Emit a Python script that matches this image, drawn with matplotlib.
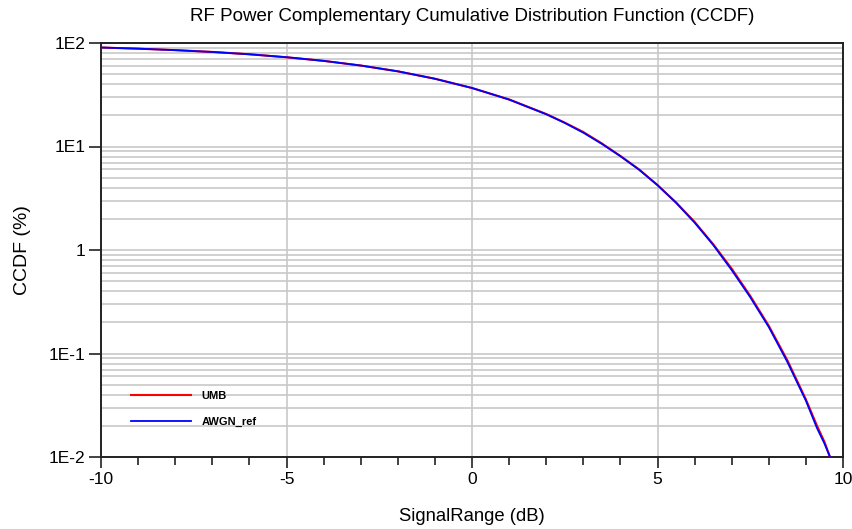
import matplotlib
matplotlib.use("Agg")
import matplotlib.pyplot as plt
from matplotlib.ticker import FixedLocator, NullFormatter

plt.rcParams['font.family'] = ['Liberation Sans', 'DejaVu Sans']

# Data
signal_db = [-10, -9, -8, -7, -6, -5, -4, -3, -2, -1, 0, 1, 2, 2.5, 3, 3.5, 4,
             4.5, 5, 5.5, 6, 6.5, 7, 7.5, 8, 8.5, 9, 9.3, 9.5, 9.65]
awgn_ref = [90.5, 88.2, 85.3, 81.9, 77.8, 72.9, 67.2, 60.6, 53.3, 45.1, 36.8,
            28.4, 20.5, 16.9, 13.6, 10.6, 8.06, 5.98, 4.23, 2.86, 1.84, 1.12,
            0.64, 0.35, 0.18, 0.083, 0.035, 0.019, 0.0135, 0.0100]
umb = [90.4, 88.1, 85.3, 82.0, 77.8, 72.8, 67.2, 60.6, 53.2, 45.2, 36.7,
       28.5, 20.6, 17.0, 13.8, 10.7, 8.10, 6.02, 4.24, 2.88, 1.87, 1.14,
       0.66, 0.36, 0.185, 0.086, 0.036, 0.020, 0.0140, 0.0100]

x_ticks = [-10, -5, 0, 5, 10]
x_tick_labels = ['-10', '-5', '0', '5', '10']
y_ticks = [1e-2, 1e-1, 1, 1e1, 1e2]
y_tick_labels = ['1E-2', '1E-1', '1', '1E1', '1E2']

title = 'RF Power Complementary Cumulative Distribution Function (CCDF)'
x_label = 'SignalRange (dB)'
y_label = 'CCDF (%)'

fig = plt.figure(figsize=(8.52, 5.29), dpi=100)
ax = fig.add_axes([101/852, 1 - 457/529, 742/852, 414/529])

ax.plot(signal_db, umb, color='#ff0000', lw=1.5, label='UMB', zorder=3)
ax.plot(signal_db, awgn_ref, color='#0000ff', lw=1.3, label='AWGN_ref', zorder=4)

ax.set_yscale('log')
ax.set_xlim(-10, 10)
ax.set_ylim(1e-2, 1e2)

ax.set_xticks(x_ticks, x_tick_labels)
ax.xaxis.set_minor_locator(FixedLocator([v for v in range(-10, 11) if v % 5 != 0]))
ax.set_yticks(y_ticks, y_tick_labels)
minor_y = [m * 10.0**e for e in range(-2, 2) for m in range(2, 10)]
ax.yaxis.set_minor_locator(FixedLocator(minor_y))
ax.yaxis.set_minor_formatter(NullFormatter())

ax.grid(True, which='major', axis='x', color='#c8c8c8', lw=1.2)
ax.grid(True, which='both', axis='y', color='#c8c8c8', lw=1.2)
ax.set_axisbelow(True)

ax.tick_params(axis='x', which='major', direction='out', length=8, width=1.2,
               labelsize=12.5, pad=3, color='#222222')
ax.tick_params(axis='x', which='minor', direction='out', length=6, width=1.2,
               color='#222222')
ax.tick_params(axis='y', which='major', direction='out', length=9, width=1.2,
               labelsize=12.5, pad=2, color='#222222')
ax.tick_params(axis='y', which='minor', length=0)

for s in ax.spines.values():
    s.set_color('#222222')
    s.set_linewidth(1.4)

ax.set_title(title, fontsize=13.5, pad=16)
ax.set_xlabel(x_label, fontsize=13.3, labelpad=15)
ax.set_ylabel(y_label, fontsize=14, labelpad=13)

leg = ax.legend(loc='upper left', bbox_to_anchor=(0.040, 0.160), frameon=False,
                fontsize=8, handlelength=5.4, handletextpad=1.0,
                labelspacing=1.43, borderpad=0, borderaxespad=0)
for t in leg.get_texts():
    t.set_fontweight('bold')

fig.savefig('out.png', dpi=100)
